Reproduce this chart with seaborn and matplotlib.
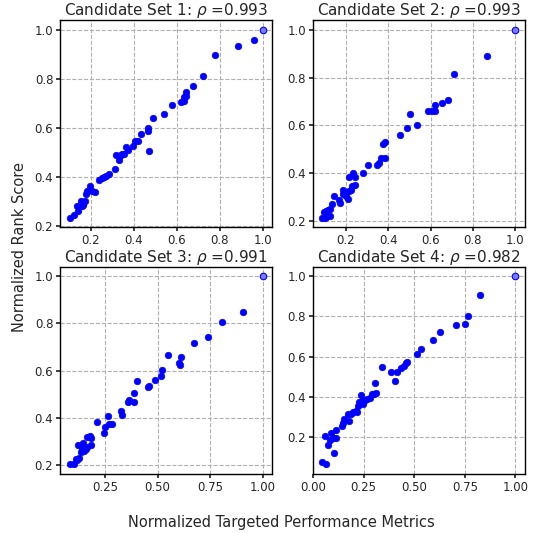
import numpy as np
import pandas as pd
import seaborn as sns
import matplotlib
matplotlib.use("Agg")
import matplotlib.pyplot as plt

# values
set1_x = [0.104, 0.122, 0.135, 0.141, 0.150, 0.157, 0.164, 0.160, 0.167, 0.172, 0.177, 0.184,
          0.197, 0.208, 0.223, 0.239, 0.251, 0.262, 0.270, 0.285, 0.312, 0.320, 0.332, 0.340,
          0.348, 0.355, 0.363, 0.374, 0.396, 0.405, 0.420, 0.436, 0.467, 0.469, 0.472, 0.492,
          0.542, 0.576, 0.619, 0.632, 0.635, 0.641, 0.644, 0.678, 0.722, 0.778, 0.886, 0.961]
set1_y = [0.234, 0.248, 0.282, 0.261, 0.282, 0.302, 0.291, 0.282, 0.288, 0.303, 0.332, 0.343,
          0.366, 0.343, 0.340, 0.387, 0.395, 0.400, 0.403, 0.414, 0.432, 0.489, 0.470, 0.489,
          0.496, 0.496, 0.523, 0.509, 0.527, 0.547, 0.547, 0.577, 0.599, 0.586, 0.507, 0.640,
          0.656, 0.693, 0.707, 0.711, 0.725, 0.748, 0.730, 0.771, 0.812, 0.895, 0.934, 0.959]

set2_x = [0.090, 0.100, 0.109, 0.128, 0.098, 0.109, 0.117, 0.124, 0.137, 0.143, 0.169, 0.172,
          0.187, 0.187, 0.200, 0.211, 0.216, 0.227, 0.231, 0.242, 0.216, 0.235, 0.244, 0.282,
          0.306, 0.348, 0.357, 0.364, 0.386, 0.376, 0.383, 0.455, 0.487, 0.502, 0.534, 0.589,
          0.605, 0.620, 0.620, 0.655, 0.680, 0.710, 0.865]
set2_y = [0.214, 0.214, 0.217, 0.221, 0.239, 0.242, 0.249, 0.252, 0.273, 0.305, 0.291, 0.277,
          0.329, 0.312, 0.305, 0.295, 0.326, 0.329, 0.347, 0.350, 0.385, 0.403, 0.387, 0.403,
          0.434, 0.434, 0.445, 0.463, 0.466, 0.522, 0.529, 0.559, 0.589, 0.650, 0.601, 0.659,
          0.662, 0.662, 0.685, 0.695, 0.708, 0.815, 0.891]

set3_x = [0.083, 0.102, 0.110, 0.118, 0.126, 0.123, 0.134, 0.142, 0.147, 0.150, 0.158, 0.163,
          0.166, 0.178, 0.182, 0.182, 0.213, 0.245, 0.248, 0.264, 0.269, 0.282, 0.328, 0.331,
          0.357, 0.364, 0.388, 0.390, 0.404, 0.452, 0.460, 0.488, 0.515, 0.519, 0.550, 0.601,
          0.608, 0.611, 0.671, 0.738, 0.805, 0.908]
set3_y = [0.204, 0.207, 0.228, 0.221, 0.233, 0.288, 0.257, 0.274, 0.296, 0.259, 0.271, 0.320,
          0.278, 0.325, 0.316, 0.285, 0.384, 0.335, 0.363, 0.408, 0.373, 0.377, 0.429, 0.415,
          0.466, 0.475, 0.505, 0.466, 0.557, 0.533, 0.537, 0.563, 0.578, 0.604, 0.667, 0.632,
          0.625, 0.660, 0.716, 0.741, 0.806, 0.849]

set4_x = [0.046, 0.066, 0.059, 0.074, 0.083, 0.086, 0.099, 0.112, 0.104, 0.112, 0.144, 0.149,
          0.153, 0.170, 0.177, 0.186, 0.198, 0.211, 0.218, 0.223, 0.228, 0.236, 0.241, 0.248,
          0.256, 0.267, 0.280, 0.289, 0.302, 0.310, 0.305, 0.342, 0.383, 0.404, 0.413, 0.437,
          0.449, 0.459, 0.462, 0.512, 0.535, 0.591, 0.627, 0.706, 0.752, 0.767, 0.825]
set4_y = [0.075, 0.063, 0.203, 0.158, 0.183, 0.220, 0.195, 0.195, 0.120, 0.233, 0.253, 0.267,
          0.288, 0.312, 0.278, 0.312, 0.325, 0.330, 0.325, 0.355, 0.375, 0.408, 0.378, 0.362,
          0.383, 0.388, 0.392, 0.413, 0.413, 0.417, 0.470, 0.550, 0.522, 0.478, 0.522, 0.542,
          0.555, 0.567, 0.572, 0.613, 0.638, 0.683, 0.720, 0.758, 0.762, 0.803, 0.908]

rhos = [0.993, 0.993, 0.991, 0.982]
all_x = [set1_x, set2_x, set3_x, set4_x]
all_y = [set1_y, set2_y, set3_y, set4_y]
# every set is normalized, so the best candidate sits at (1, 1)
top_x = 1.0
top_y = 1.0
xtick_sets = [[0.2, 0.4, 0.6, 0.8, 1.0], [0.2, 0.4, 0.6, 0.8, 1.0],
              [0.25, 0.5, 0.75, 1.0], [0.0, 0.25, 0.5, 0.75, 1.0]]

sns.set_theme(style="ticks", rc={"axes.grid": True, "grid.linestyle": "--",
                                 "grid.color": "#b0b0b0", "axes.edgecolor": "black",
                                 "axes.linewidth": 1.0})
plt.rcParams['font.family'] = ['DejaVu Sans']

fig, axes = plt.subplots(2, 2, figsize=(5.33, 5.33), dpi=100)
fig.subplots_adjust(left=0.113, right=0.985, top=0.962, bottom=0.111,
                    wspace=0.19, hspace=0.19)

for i, ax in enumerate(axes.flat):
    df = pd.DataFrame({"x": all_x[i], "y": all_y[i]})
    sns.scatterplot(data=df, x="x", y="y", ax=ax, color="blue", edgecolor="blue",
                    s=22, linewidth=0.5)
    sns.scatterplot(x=[top_x], y=[top_y], ax=ax, color="#7b7bff", edgecolor="blue",
                    s=22, linewidth=0.8)
    ax.set_xticks(xtick_sets[i])
    ax.set_title(r"Candidate Set %d: $\rho$ =%.3f" % (i + 1, rhos[i]), fontsize=11, pad=2)
    ax.set_xlabel("")
    ax.set_ylabel("")
    ax.tick_params(labelsize=8.5, length=3, pad=2)
    ax.grid(True, linestyle="--", color="#b0b0b0", linewidth=0.8)

fig.text(0.527, 0.019, "Normalized Targeted Performance Metrics", fontsize=10.5,
         ha="center", va="center")
fig.text(0.0375, 0.537, "Normalized Rank Score", fontsize=10.5,
         ha="center", va="center", rotation=90)

plt.savefig("out.png", dpi=100)
plt.close()
